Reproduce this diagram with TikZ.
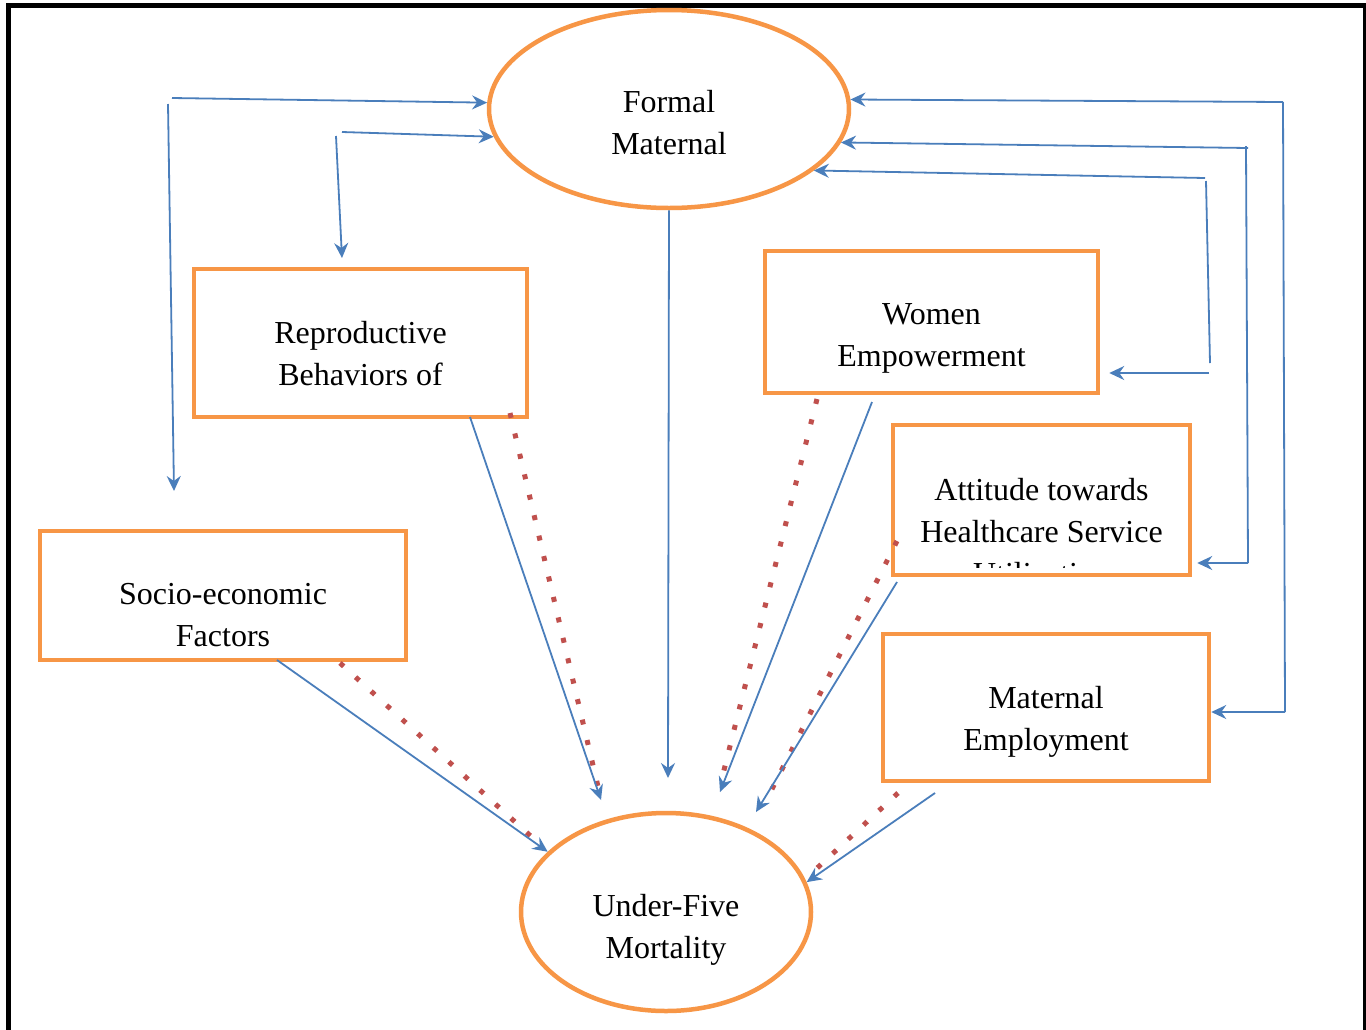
\documentclass[tikz,border=0pt]{standalone}
\usepackage{fontspec}
\setmainfont{Liberation Serif}
\usetikzlibrary{shapes.geometric,arrows.meta,calc}
\definecolor{orng}{HTML}{F79646}
\definecolor{blu}{HTML}{4A7EBB}
\definecolor{rd}{HTML}{C0504D}
\begin{document}
\begin{tikzpicture}[x=1pt,y=-1pt,
  ell/.style={draw=orng,line width=4.5pt,ellipse,inner sep=0pt},
  boxx/.style={draw=orng,line width=4.5pt,rectangle,inner sep=0pt},
  txt/.style={align=center,inner sep=0pt,font=\fontsize{32}{42}\selectfont},
  arr/.style={draw=blu,line width=1.8pt,-{Stealth[length=15pt,width=14pt,inset=5pt]}},
  bl/.style={draw=blu,line width=1.8pt},
  dots/.style={draw=rd,line width=5pt,dash pattern=on 5pt off 16pt}]
\clip (0,0) rectangle (1366,1029);
\fill[white] (0,0) rectangle (1366,1029);
\draw[line width=4.8pt] (8.5,1060) -- (8.5,5.8) -- (1365.5,5.8) -- (1365.5,1060);

% nodes
\node[ell,minimum width=360pt,minimum height=198pt] (fm) at (669,109) {};
\node[ell,minimum width=290pt,minimum height=198pt] (uf) at (666,912) {};
\node[boxx,minimum width=333pt,minimum height=148pt] (rb) at (360.5,343) {};
\node[boxx,minimum width=333pt,minimum height=142pt] (we) at (931.5,322) {};
\node[boxx,minimum width=297pt,minimum height=150pt] (at) at (1041.5,500) {};
\node[boxx,minimum width=366pt,minimum height=129pt] (se) at (223,595.5) {};
\node[boxx,minimum width=326pt,minimum height=147pt] (me) at (1046,707.5) {};

% texts
\node[txt] (fmt) at (669,123) {Formal\\Maternal};
\node[txt] (uft) at (666,930) {Under-Five\\Mortality};
\node[txt] (rbt) at (360.5,354) {Reproductive\\Behaviors of};
\node[txt] (wet) at (931.5,338.5) {Women\\Empowerment};
\node[txt] (set) at (223,615) {Socio-economic\\Factors};
\node[txt] (met) at (1046,721.5) {Maternal\\Employment};
\begin{scope}
\clip (895,427) rectangle (1188,567);
\node[txt] (att) at (1041.5,531.5) {Attitude towards\\Healthcare Service\\Utilization};
\end{scope}

% coordinates
\coordinate (a1) at (172,98);
\coordinate (a1v) at (168,104);
\coordinate (a1e) at (174,491);
\coordinate (a2) at (342,132);
\coordinate (a2v) at (336,136);
\coordinate (a2e) at (342,258);
\coordinate (r1) at (1283,102);
\coordinate (r1b) at (1285,712);
\coordinate (r2) at (1248,148);
\coordinate (r2t) at (1246,146);
\coordinate (r2b) at (1248,563);
\coordinate (r3) at (1205,178);
\coordinate (r3v) at (1206,181);
\coordinate (r3b) at (1210,363);
\coordinate (r3h) at (1209,373);
\coordinate (ce) at (668,778);
\coordinate (ss) at (277,660);
\coordinate (rs) at (470,417);
\coordinate (re) at (601,800);
\coordinate (ws) at (872,402);
\coordinate (we2) at (720,792);
\coordinate (as) at (897,582);
\coordinate (ae) at (756,812);
\coordinate (ms) at (935,793);
% dotted ends
\coordinate (sd1) at (340,663);
\coordinate (sd2) at (535,840);
\coordinate (rd1) at (510,413);
\coordinate (rd2) at (600,795);
\coordinate (wd1) at (817,399);
\coordinate (wd2) at (722,778);
\coordinate (ad1) at (897,541);
\coordinate (ad2) at (769,795);
\coordinate (md1) at (898,793);
\coordinate (md2) at (815,870);

% left feedback arrows
\draw[arr] (a1) -- (fm.178);
\draw[arr] (a1v) -- (a1e);
\draw[arr] (a2) -- (fm.189);
\draw[arr] (a2v) -- (a2e);

% right feedback arrows
\draw[arr] (r1) -- (fm.3.5);
\draw[bl] (r1) -- (r1b);
\draw[arr] (r1b) -- (r1b -| me.east);
\draw[arr] (r2) -- (fm.349);
\draw[bl] (r2t) -- (r2b);
\draw[arr,shorten >=5pt] (r2b) -- (r2b -| at.east);
\draw[arr] (r3) -- (fm.337);
\draw[bl] (r3v) -- (r3b);
\draw[arr,shorten >=9pt] (r3h) -- (r3h -| we.east);

% central arrow
\draw[arr] (fm.south) -- (ce);

% to under-five
\draw[dots] (sd1) -- (sd2);
\draw[dots] (rd1) -- (rd2);
\draw[dots] (wd1) -- (wd2);
\draw[dots] (ad1) -- (ad2);
\draw[dots] (md1) -- (md2);
\draw[arr] (ss) -- (uf.153);
\draw[arr] (rs) -- (re);
\draw[arr] (ws) -- (we2);
\draw[arr] (as) -- (ae);
\draw[arr] (ms) -- (uf.12);
\end{tikzpicture}
\end{document}
